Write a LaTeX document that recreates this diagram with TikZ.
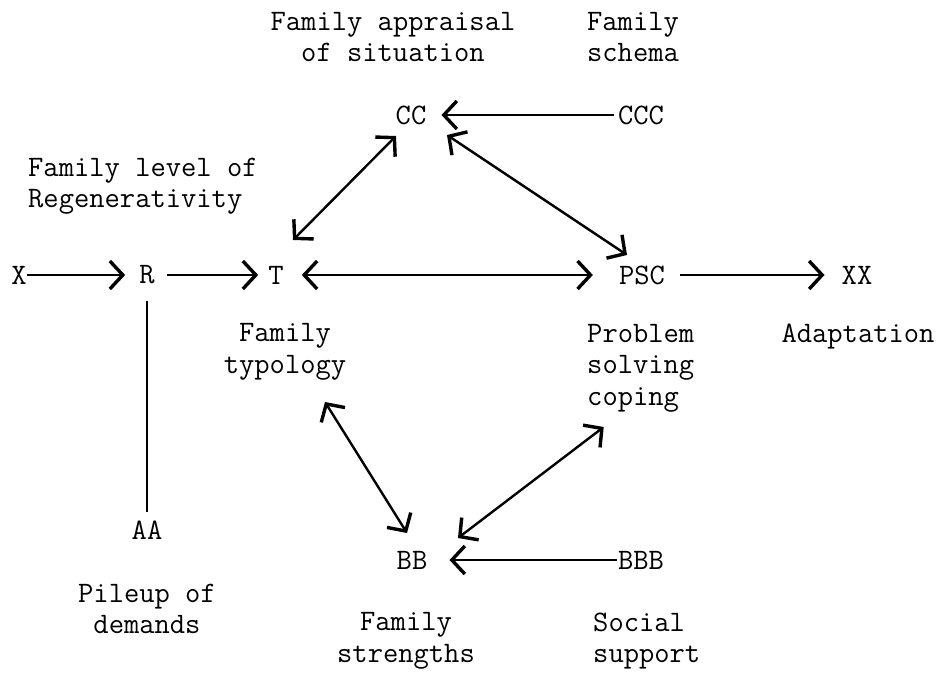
\documentclass[tikz,border=0pt]{standalone}
\usetikzlibrary{arrows.meta,calc}
\begin{document}
\begin{tikzpicture}[x=1pt,y=-1pt,
  lbl/.style={inner sep=0pt, font=\fontsize{29.7}{31.5}\selectfont\ttfamily},
  txt/.style={lbl, align=center},
  ltxt/.style={lbl, align=left, anchor=west},
  ln/.style={line width=2.4pt},
  barb/.tip={Straight Barb[length=13pt,width=28pt,line width=3.4pt]},
  arr/.style={ln, -barb},
  darr/.style={ln, barb-barb}
]
\useasboundingbox (0,0) rectangle (943,674);
% main nodes
\node[lbl] (X) at (19,275) {X};
\node[lbl] (R) at (147,275) {R};
\node[lbl] (T) at (276,275) {T};
\node[lbl] (PSC) at (642,275) {PSC};
\node[lbl] (XX) at (857,275) {XX};
\node[lbl] (CC) at (411,115) {CC};
\node[lbl] (CCC) at (641,115) {CCC};
\node[lbl] (BB) at (412,560) {BB};
\node[lbl] (BBB) at (641,560) {BBB};
\node[lbl] (AA) at (147,530) {AA};
% labels
\node[txt] (Lapp) at (393,37) {Family appraisal\\of situation};
\node[lbl, align=left] (Lsch) at (633,37) {Family\\schema};
\node[ltxt] (Lreg) at (28,186) {Family level of\\Regenerativity};
\node[txt] (Ltyp) at (285,352) {Family\\typology};
\node[ltxt] (Lpsc) at (587,368) {Problem\\solving\\coping};
\node[lbl] (Lad) at (858,337) {Adaptation};
\node[txt] (Lpile) at (147,609) {Pileup of\\demands};
\node[txt] (Lstr) at (406,641) {Family\\strengths};
\node[ltxt] (Lsoc) at (593,641) {Social\\support};
% connectors
\draw[arr, shorten >=14pt] (X) -- (R);
\draw[arr, shorten <=12pt, shorten >=10pt] (R) -- (T);
\draw[darr, shorten <=18pt, shorten >=26pt] (T) -- (PSC);
\draw[arr, shorten <=15pt, shorten >=17pt] (PSC) -- (XX);
\draw[arr, shorten <=4pt, shorten >=15pt] (CCC) -- (CC);
\draw[arr, shorten <=1pt, shorten >=22pt] (BBB) -- (BB);
\draw[ln, shorten <=17pt, shorten >=9pt] (R) -- (AA);
\draw[darr] ([shift={(17,-35)}]T.center) -- ([shift={(-15,21)}]CC.center);
\draw[darr] ([shift={(36,20)}]CC.center) -- ([shift={(-15,-20)}]PSC.center);
\draw[darr] ([shift={(40,50)}]Ltyp.center) -- ([shift={(-5,-27)}]BB.center);
\draw[darr] ([shift={(46,-22)}]BB.center) -- ([shift={(-37,59)}]Lpsc.center);
\end{tikzpicture}
\end{document}
